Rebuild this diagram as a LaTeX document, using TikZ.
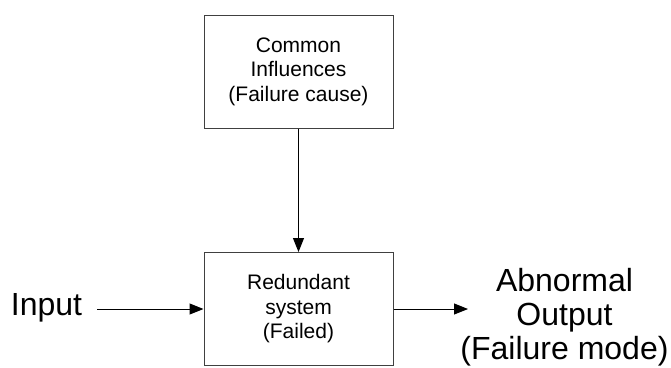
\documentclass[tikz,border=0pt]{standalone}
\usepackage{fontspec}
\setmainfont{Liberation Sans}
\usetikzlibrary{arrows.meta}
\begin{document}
\begin{tikzpicture}[x=1pt,y=-1pt]
    \tikzset{blockbox/.style={draw=black!75,line width=1pt,minimum width=189pt,minimum height=113pt,
            align=center,inner sep=0pt,font=\fontsize{21}{24.5}\selectfont},
        bigtext/.style={align=center,inner sep=0pt,font=\fontsize{32}{34}\selectfont},
        flow/.style={line width=1pt,-{Triangle[length=14pt,width=11pt]}}}
    \useasboundingbox (0,0) rectangle (671,367);
    \node[blockbox] (cause) at (298.5,71.5) {Common\\Influences\\(Failure cause)};
    \node[blockbox] (sys) at (298.5,309) {Redundant\\system\\(Failed)};
    \node[bigtext,inner xsep=15pt,anchor=base] (input) at (46.5,315) {Input};
    \node[bigtext,anchor=north] (output) at (564.5,268) {Abnormal\\Output\\(Failure mode)};
    \coordinate (outtip) at (468,309);
    \draw[flow] (cause) -- (sys);
    \draw[flow] (input.east |- sys.west) -- (sys.west);
    \draw[flow] (sys.east) -- (outtip);
\end{tikzpicture}
\end{document}
